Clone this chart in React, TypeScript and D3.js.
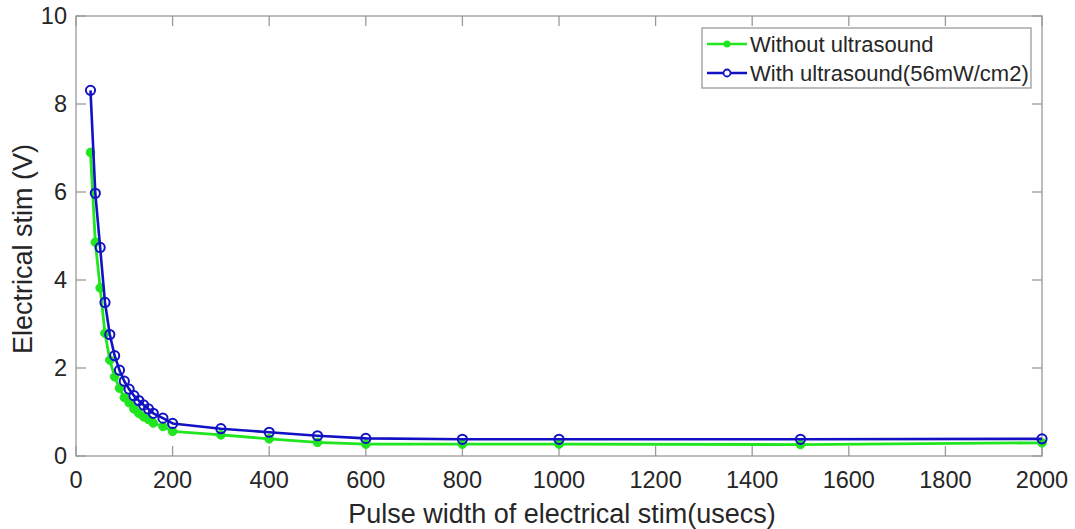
import React from "react";
import * as d3 from "d3";

const pulseWidths = [30, 40, 50, 60, 70, 80, 90, 100, 110, 120, 130, 140, 150, 160, 180, 200, 300, 400, 500, 600, 800, 1000, 1500, 2000];
const withoutUltrasound = [6.9, 4.86, 3.82, 2.79, 2.18, 1.8, 1.54, 1.33, 1.21, 1.07, 0.97, 0.89, 0.83, 0.75, 0.67, 0.56, 0.48, 0.39, 0.31, 0.27, 0.27, 0.27, 0.26, 0.3];
const withUltrasound = [8.31, 5.97, 4.74, 3.49, 2.76, 2.28, 1.95, 1.7, 1.52, 1.37, 1.26, 1.16, 1.07, 0.97, 0.86, 0.74, 0.62, 0.54, 0.46, 0.4, 0.38, 0.38, 0.38, 0.39];
const xTicks = [0, 200, 400, 600, 800, 1000, 1200, 1400, 1600, 1800, 2000];
const yTicks = [0, 2, 4, 6, 8, 10];
const seriesNames = ["Without ultrasound", "With ultrasound(56mW/cm2)"];

const W = 1075, H = 529;
const L = 76, R = 1042, T = 16, B = 456;
const GREEN = "#1fe61f";
const BLUE = "#1212c4";
const AXIS = "#9a9a9a";
const TXT = "#262626";
const FONT = "Liberation Sans, Arial, Helvetica, sans-serif";

export default function App() {
  const x = d3.scaleLinear().domain([0, 2000]).range([L, R]);
  const y = d3.scaleLinear().domain([0, 10]).range([B, T]);
  const line = d3.line<[number, number]>().x(d => x(d[0])).y(d => y(d[1]));
  const g: [number, number][] = pulseWidths.map((p, i) => [p, withoutUltrasound[i]]);
  const b: [number, number][] = pulseWidths.map((p, i) => [p, withUltrasound[i]]);

  return (
    <svg width={W} height={H} style={{ position: "absolute", left: 0, top: 0, background: "#fff" }} fontFamily={FONT}>
      <rect x={0} y={0} width={W} height={H} fill="#fff" />
      <rect x={L} y={T} width={R - L} height={B - T} fill="none" stroke={AXIS} strokeWidth={1.3} />
      {xTicks.map(t => (
        <g key={"x" + t}>
          <line x1={x(t)} x2={x(t)} y1={B} y2={B - 10} stroke={AXIS} strokeWidth={1.3} />
          <line x1={x(t)} x2={x(t)} y1={T} y2={T + 10} stroke={AXIS} strokeWidth={1.3} />
          <text x={x(t)} y={488} textAnchor="middle" fontSize={23.5} fill={TXT}>{t}</text>
        </g>
      ))}
      {yTicks.map(t => (
        <g key={"y" + t}>
          <line x1={L} x2={L + 10} y1={y(t)} y2={y(t)} stroke={AXIS} strokeWidth={1.3} />
          <line x1={R} x2={R - 10} y1={y(t)} y2={y(t)} stroke={AXIS} strokeWidth={1.3} />
          <text x={67} y={y(t) + 8} textAnchor="end" fontSize={23.5} fill={TXT}>{t}</text>
        </g>
      ))}
      <text x={562} y={523} textAnchor="middle" fontSize={27} fill={TXT}>Pulse width of electrical stim(usecs)</text>
      <text transform={`translate(32,249) rotate(-90)`} textAnchor="middle" fontSize={27} fill={TXT}>Electrical stim (V)</text>

      <path d={line(g) || ""} fill="none" stroke={GREEN} strokeWidth={2.8} strokeLinejoin="round" />
      {g.map((d, i) => (
        <circle key={"g" + i} cx={x(d[0])} cy={y(d[1])} r={4.3} fill={GREEN} stroke={GREEN} strokeWidth={1} />
      ))}
      <path d={line(b) || ""} fill="none" stroke={BLUE} strokeWidth={2.6} strokeLinejoin="round" />
      {b.map((d, i) => (
        <circle key={"b" + i} cx={x(d[0])} cy={y(d[1])} r={4.6} fill="none" stroke={BLUE} strokeWidth={2} />
      ))}

      <rect x={702} y={28} width={329} height={60} fill="#fff" stroke={AXIS} strokeWidth={1.3} />
      <line x1={707} x2={747} y1={44} y2={44} stroke={GREEN} strokeWidth={2.6} />
      <circle cx={727} cy={44} r={3.5} fill={GREEN} />
      <text x={750} y={52} fontSize={22} fill={TXT}>{seriesNames[0]}</text>
      <line x1={707} x2={747} y1={73} y2={73} stroke={BLUE} strokeWidth={2.6} />
      <circle cx={727} cy={73} r={3.5} fill="#fff" stroke={BLUE} strokeWidth={1.8} />
      <text x={750} y={81} fontSize={22} fill={TXT}>{seriesNames[1]}</text>
    </svg>
  );
}
